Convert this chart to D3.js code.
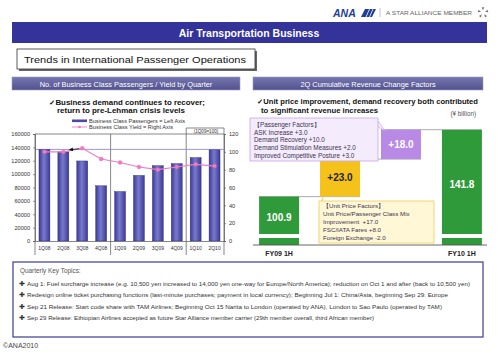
<!DOCTYPE html>
<html><head><meta charset="utf-8">
<script src="https://cdn.jsdelivr.net/npm/d3@7/dist/d3.min.js"></script>
<style>
body{margin:0;background:#fff;}
svg{display:block;font-family:"Liberation Sans",Arial,sans-serif;}
</style></head>
<body>
<script>
// ---------- DATA ----------
const quarters = ["1Q08","2Q08","3Q08","4Q08","1Q09","2Q09","3Q09","4Q09","1Q10","2Q10"];
const passengers = [137000,133300,119700,82600,74000,98100,112700,115800,124800,136300];
const yieldIndex = [100,100,104,92,88,83,80,83,86,84];
const leftTicks = [0,20000,40000,60000,80000,100000,120000,140000,160000];
const rightTicks = [0,20,40,60,80,100,120];
const legendLabels = ["Business Class Passengers = Left Axis","Business Class Yield = Right Axis"];

const wfCategories = ["FY09 1H","Unit Price Factors","Passenger Factors","FY10 1H"];
const wfValues = [100.9, 23.0, 18.0, 141.8];
const wfTypes = ["total","delta","delta","total"];
const wfLabels = ["100.9","+23.0","+18.0","141.8"];
const wfDomain = [78, 146]; // broken axis: part below 78 is compressed into a stub

const passengerFactors = ["\u3010Passenger Factors\u3011","ASK Increase +3.0","Demand Recovery +10.0","Demand Stimulation Measures +2.0","Improved Competitive Posture +3.0"];
const unitPriceFactors = ["\u3010Unit Price Factors\u3011","Unit Price/Passenger Class Mix","Improvement  +17.0","FSC/IATA Fares +8.0","Foreign Exchange -2.0"];
const topics = [
 "Aug 1: Fuel surcharge increase (e.g. 10,500 yen increased to 14,000 yen one-way for Europe/North America); reduction on Oct 1 and after (back to 10,500 yen)",
 "Redesign online ticket purchasing functions (last-minute purchases; payment in local currency); Beginning Jul 1: China/Asia, beginning Sep 29: Europe",
 "Sep 21 Release: Start code share with TAM Airlines; Beginning Oct 15 Narita to London (operated by ANA), London to Sao Paulo (operated by TAM)",
 "Sep 29 Release: Ethiopian Airlines accepted as future Star Alliance member carrier (29th member overall, third African member)"
];
const topicWidths = [443,421,415,347];

// ---------- SETUP ----------
const svg = d3.select("body").append("svg").attr("width",500).attr("height",353);
const defs = svg.append("defs");
const hg = defs.append("linearGradient").attr("id","hdr").attr("x1",0).attr("y1",0).attr("x2",0).attr("y2",1);
hg.append("stop").attr("offset","0").attr("stop-color","#7676b0");
hg.append("stop").attr("offset","1").attr("stop-color","#52528f");
const bg = defs.append("linearGradient").attr("id","bar").attr("x1",0).attr("y1",0).attr("x2",1).attr("y2",0);
bg.append("stop").attr("offset","0").attr("stop-color","#3a3a98");
bg.append("stop").attr("offset","0.45").attr("stop-color","#7a7acc");
bg.append("stop").attr("offset","1").attr("stop-color","#3a3a98");
defs.append("marker").attr("id","arr").attr("viewBox","0 0 10 10").attr("refX",9).attr("refY",5)
  .attr("markerWidth",5).attr("markerHeight",5).attr("orient","auto")
  .append("path").attr("d","M0,0L10,5L0,10z").attr("fill","#111");

// ---------- HEADER ----------
const logo = svg.append("g");
logo.append("text").attr("x",333).attr("y",17).attr("font-size",10.5).attr("font-weight","bold")
  .attr("font-style","italic").attr("fill","#1d3f94").text("ANA");
logo.append("path").attr("d","M361,17 L365,9 L376,9 L372,17z").attr("fill","#1d3f94");
[0,1].forEach(i=>logo.append("line").attr("x1",366+i*3.5).attr("x2",369.5+i*3.5).attr("y1",17).attr("y2",9)
  .attr("stroke","#fff").attr("stroke-width",0.8));
logo.append("line").attr("x1",380).attr("x2",380).attr("y1",8).attr("y2",17).attr("stroke","#aaa").attr("stroke-width",0.7);
logo.append("text").attr("x",386).attr("y",15).attr("font-size",4.6).attr("fill","#666")
  .attr("textLength",86).attr("lengthAdjust","spacingAndGlyphs").text("A STAR ALLIANCE MEMBER");
const star = logo.append("g").attr("transform","translate(483,12.5)");
d3.range(5).forEach(k=>{
  star.append("path").attr("d","M-1.3,-5.2 L1.3,-5.2 L0,-2.2z").attr("fill","#777")
    .attr("transform",`rotate(${k*72})`);
});

svg.append("rect").attr("x",12).attr("y",22).attr("width",475).attr("height",21).attr("fill","#33339a");
svg.append("text").attr("x",249).attr("y",37).attr("text-anchor","middle").attr("font-size",10.5)
  .attr("font-weight","bold").attr("fill","#fff").text("Air Transportation Business");

svg.append("rect").attr("x",19).attr("y",51).attr("width",238).attr("height",20).attr("fill","#666");
svg.append("rect").attr("x",17).attr("y",49).attr("width",238).attr("height",20).attr("fill","#fff").attr("stroke","#333").attr("stroke-width",0.8);
svg.append("text").attr("x",24).attr("y",62.5).attr("font-size",8.2).attr("fill","#111")
  .attr("textLength",222).attr("lengthAdjust","spacingAndGlyphs").text("Trends in International Passenger Operations");

function panelHeader(x,w,label){
  svg.append("rect").attr("x",x).attr("y",77).attr("width",w).attr("height",13).attr("fill","url(#hdr)").attr("stroke","#9a9ac8").attr("stroke-width",0.6);
  svg.append("text").attr("x",x+w/2).attr("y",86.5).attr("text-anchor","middle").attr("font-size",7.4).attr("fill","#fff").text(label);
}
panelHeader(12,228,"No. of Business Class Passengers / Yield by Quarter");
panelHeader(253,230,"2Q Cumulative Revenue Change Factors");

// ---------- LEFT CHART ----------
svg.append("text").attr("x",49).attr("y",104.5).attr("font-size",7.4).attr("font-weight","bold").attr("fill","#111")
  .attr("textLength",156).attr("lengthAdjust","spacingAndGlyphs").text("\u2713Business demand continues to recover;");
svg.append("text").attr("x",57).attr("y",113).attr("font-size",7.4).attr("font-weight","bold").attr("fill","#111")
  .attr("textLength",128).attr("lengthAdjust","spacingAndGlyphs").text("return to pre-Lehman crisis levels");

const x = d3.scaleBand().domain(quarters).range([35,224]).paddingInner(0.42).paddingOuter(0.21);
const yL = d3.scaleLinear().domain([0,160000]).range([241,134]);
const yR = d3.scaleLinear().domain([0,120]).range([241,134]);

// legend
const lg = svg.append("g");
lg.append("rect").attr("x",72).attr("y",119.5).attr("width",15).attr("height",2.6).attr("fill","#4a4aa8");
lg.append("line").attr("x1",72).attr("x2",87).attr("y1",127).attr("y2",127).attr("stroke","#ef7cc4").attr("stroke-width",0.9);
lg.append("circle").attr("cx",79.5).attr("cy",127).attr("r",1.3).attr("fill","#ef7cc4");
legendLabels.forEach((t,i)=>lg.append("text").attr("x",89).attr("y",122.5+i*6.8).attr("font-size",4.6).attr("fill","#333")
  .attr("textLength",i===0?96:84).attr("lengthAdjust","spacingAndGlyphs").text(t));

// frame
const frame = svg.append("g").attr("stroke","#555").attr("stroke-width",0.7).attr("fill","none");
frame.append("line").attr("x1",35).attr("x2",224).attr("y1",134).attr("y2",134);
const div1 = x("4Q08")+x.bandwidth()+ (x.step()-x.bandwidth())/2;
const div2 = x("4Q09")+x.bandwidth()+ (x.step()-x.bandwidth())/2;
frame.append("line").attr("x1",div1).attr("x2",div1).attr("y1",134).attr("y2",255);
frame.append("line").attr("x1",div2).attr("x2",div2).attr("y1",128).attr("y2",255);
frame.append("line").attr("x1",div2).attr("x2",224).attr("y1",128).attr("y2",128);
frame.append("line").attr("x1",35).attr("x2",35).attr("y1",134).attr("y2",255);
frame.append("line").attr("x1",224).attr("x2",224).attr("y1",128).attr("y2",255);
svg.append("text").attr("x",206).attr("y",132.5).attr("text-anchor","middle").attr("font-size",4.6).attr("fill","#333").text("(1Q09=100)");

// reference (pre-Lehman) line
svg.append("line").attr("x1",35).attr("x2",224).attr("y1",yL(passengers[0])).attr("y2",yL(passengers[0]))
  .attr("stroke","#8e8ec4").attr("stroke-width",0.9);

// bars
svg.append("g").selectAll("rect").data(quarters).join("rect")
  .attr("x",d=>x(d)).attr("width",x.bandwidth())
  .attr("y",(d,i)=>yL(passengers[i])).attr("height",(d,i)=>yL(0)-yL(passengers[i]))
  .attr("fill","url(#bar)").attr("stroke","#2c2c80").attr("stroke-width",0.4);

// axes
const axL = svg.append("g").attr("transform","translate(35,0)")
  .call(d3.axisLeft(yL).tickValues(leftTicks).tickSize(2).tickFormat(d3.format("d")));
const axR = svg.append("g").attr("transform","translate(224,0)")
  .call(d3.axisRight(yR).tickValues(rightTicks).tickSize(2).tickFormat(d3.format("d")));
[axL,axR].forEach(a=>{
  a.select(".domain").attr("stroke","#555").attr("stroke-width",0.7);
  a.selectAll(".tick line").attr("stroke","#555").attr("stroke-width",0.6);
  a.selectAll("text").attr("font-size",5.6).attr("fill","#333").attr("font-family","Liberation Sans, Arial, sans-serif");
});
axR.selectAll("text").attr("x",5);
const axB = svg.append("g").attr("transform","translate(0,241)")
  .call(d3.axisBottom(x).tickSize(0).tickSizeOuter(0));
axB.select(".domain").attr("stroke","#555").attr("stroke-width",0.7);
axB.selectAll("text").attr("font-size",5).attr("fill","#333").attr("dy","0.55em").attr("y",6)
  .attr("font-family","Liberation Sans, Arial, sans-serif");

// yield line
const cx = d=>x(d)+x.bandwidth()/2;
svg.append("path").datum(quarters)
  .attr("d",d3.line().x(d=>cx(d)).y((d,i)=>yR(yieldIndex[i])))
  .attr("fill","none").attr("stroke","#ef7cc4").attr("stroke-width",1.2);
svg.append("g").selectAll("circle").data(quarters).join("circle")
  .attr("cx",d=>cx(d)).attr("cy",(d,i)=>yR(yieldIndex[i])).attr("r",2)
  .attr("fill","#ef7cc4").attr("stroke","#e060b0").attr("stroke-width",0.3);
// small arrow
svg.append("line").attr("x1",cx("3Q08")-3).attr("y1",yR(yieldIndex[2])+0.5)
  .attr("x2",cx("2Q08")+6).attr("y2",yR(yieldIndex[2])+1.5)
  .attr("stroke","#111").attr("stroke-width",0.8).attr("marker-end","url(#arr)");

// ---------- RIGHT CHART ----------
svg.append("text").attr("x",257).attr("y",104).attr("font-size",7.2).attr("font-weight","bold").attr("fill","#111")
  .attr("textLength",221).attr("lengthAdjust","spacingAndGlyphs").text("\u2713Unit price improvement, demand recovery both contributed");
svg.append("text").attr("x",261).attr("y",112.5).attr("font-size",7.2).attr("font-weight","bold").attr("fill","#111")
  .attr("textLength",117).attr("lengthAdjust","spacingAndGlyphs").text("to significant revenue increases");
svg.append("text").attr("x",476).attr("y",116).attr("text-anchor","end").attr("font-size",6.3).attr("fill","#555").text("(\u00a5 billion)");

const xw = d3.scaleBand().domain(wfCategories).range([253,488]).paddingInner(0.344).paddingOuter(0.1);
const yw = d3.scaleLinear().domain(wfDomain).range([234,123]);
const baseY = 245, stubTop = 238;
const wfColors = ["#2f9a3a","#f5c21b","#b88ae6","#2f9a3a"];
let cum = 0;
const wf = wfCategories.map((c,i)=>{
  let lo, hi;
  if(wfTypes[i]==="total"){ lo=0; hi=wfValues[i]; cum=wfValues[i]; }
  else { lo=cum; hi=cum+wfValues[i]; cum=hi; }
  return {c, lo, hi, i};
});

// connectors
const conn = svg.append("g").attr("stroke","#888").attr("stroke-width",0.7);
wf.forEach((d,i)=>{
  if(i<wf.length-1){
    conn.append("line").attr("x1",xw(d.c)).attr("x2",xw(wf[i+1].c)+xw.bandwidth())
      .attr("y1",yw(d.hi)).attr("y2",yw(d.hi));
  }
});

wf.forEach(d=>{
  const g = svg.append("g");
  if(d.lo===0){
    g.append("rect").attr("x",xw(d.c)).attr("width",xw.bandwidth()).attr("y",yw(d.hi)).attr("height",yw(wfDomain[0])-yw(d.hi)).attr("fill",wfColors[d.i]);
    g.append("rect").attr("x",xw(d.c)).attr("width",xw.bandwidth()).attr("y",stubTop).attr("height",baseY-stubTop).attr("fill",wfColors[d.i]);
  } else {
    g.append("rect").attr("x",xw(d.c)).attr("width",xw.bandwidth()).attr("y",yw(d.hi)).attr("height",yw(d.lo)-yw(d.hi)).attr("fill",wfColors[d.i]);
  }
  const top = yw(d.hi), bot = d.lo===0 ? yw(wfDomain[0]) : yw(d.lo);
  g.append("text").attr("x",xw(d.c)+xw.bandwidth()/2).attr("y",(top+bot)/2+(d.lo===0?6:3.5))
    .attr("text-anchor","middle").attr("font-size",10).attr("font-weight","bold")
    .attr("fill",d.i===1?"#222":"#fff").text(wfLabels[d.i]);
});

svg.append("line").attr("x1",253).attr("x2",487).attr("y1",baseY).attr("y2",baseY).attr("stroke","#555").attr("stroke-width",0.9);
[0,3].forEach(i=>svg.append("text").attr("x",xw(wfCategories[i])+xw.bandwidth()/2).attr("y",255.5)
  .attr("text-anchor","middle").attr("font-size",7).attr("font-weight","bold").attr("fill","#222").text(wfCategories[i]));

// callouts
function callout(bx,by,bw,bh,fill,stroke,lines,ptr,y0,dy,fs){
  const g = svg.append("g");
  g.append("path").attr("d",ptr).attr("fill",fill).attr("stroke",stroke).attr("stroke-width",0.7);
  g.append("rect").attr("x",bx).attr("y",by).attr("width",bw).attr("height",bh).attr("fill",fill).attr("stroke",stroke).attr("stroke-width",0.8);
  lines.forEach((t,i)=>g.append("text").attr("x",bx+4).attr("y",y0+i*dy).attr("font-size",fs)
    .attr("fill","#3a3350").style("white-space","pre").text(t));
}
callout(250,118,128,43,"#f4ecfc","#c9a6ec",passengerFactors,
  `M378,121 L${xw(wfCategories[2])+4},${yw(wf[2].hi)+1} L378,127`,127,7.7,6.4);
callout(319,201,115,42,"#fff7d6","#efcc55",unitPriceFactors,
  `M320,204 L${xw(wfCategories[1])+3},${yw(wf[1].lo)+1} L320,210`,208,8.1,6.2);

// ---------- BOTTOM TOPICS ----------
svg.append("rect").attr("x",13).attr("y",262).attr("width",470).attr("height",75).attr("fill","#fff")
  .attr("stroke","#4a4a98").attr("stroke-width",1.3);
svg.append("text").attr("x",20).attr("y",272.5).attr("font-size",6.4).attr("fill","#555").text("Quarterly Key Topics:");
topics.forEach((t,i)=>{
  const yy = 285.5 + i*11.6;
  svg.append("text").attr("x",19).attr("y",yy).attr("font-size",6.5).attr("fill","#333").text("\u271A");
  svg.append("text").attr("x",27).attr("y",yy).attr("font-size",5.6).attr("fill","#333")
    .attr("textLength",topicWidths[i]).attr("lengthAdjust","spacingAndGlyphs").text(t);
});
svg.append("text").attr("x",3).attr("y",348).attr("font-size",7).attr("fill","#444").text("\u00a9ANA2010");
</script>
</body></html>
